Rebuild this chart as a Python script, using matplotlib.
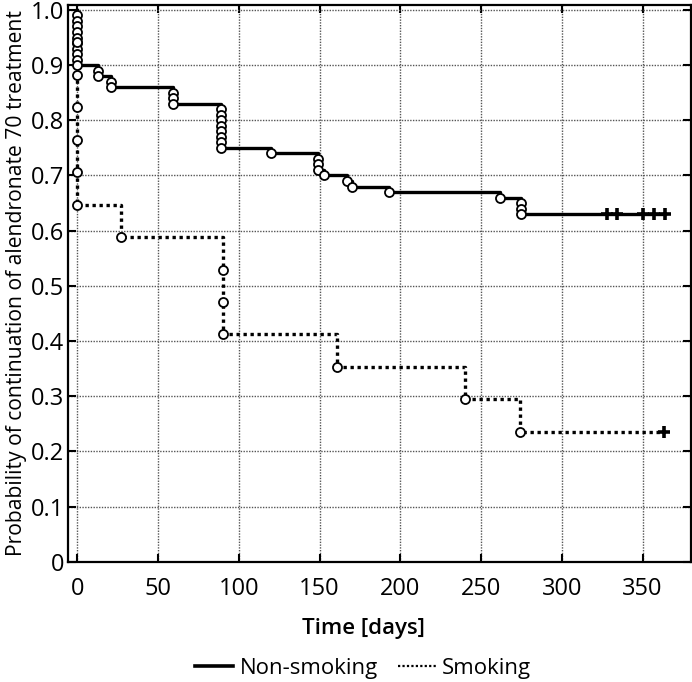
import matplotlib.pyplot as plt

plt.rcParams['font.family'] = ['Open Sans', 'DejaVu Sans']

# Non-smoking group: event times and survival after each event
ns_time = [0, 0, 0, 0, 0, 0, 0, 0, 0, 0,
           13, 13, 21, 21, 59, 59, 59,
           89, 89, 89, 89, 89, 89, 89, 89,
           120, 149, 149, 149, 153, 167, 170, 193, 262, 275, 275, 275]
ns_surv = [0.99, 0.98, 0.97, 0.96, 0.95, 0.94, 0.93, 0.92, 0.91, 0.90,
           0.89, 0.88, 0.87, 0.86, 0.85, 0.84, 0.83,
           0.82, 0.81, 0.80, 0.79, 0.78, 0.77, 0.76, 0.75,
           0.74, 0.73, 0.72, 0.71, 0.70, 0.69, 0.68, 0.67, 0.66, 0.65, 0.64, 0.63]
ns_cens = [328, 334, 350, 357, 364]

# Smoking group
sm_time = [0, 0, 0, 0, 0, 0, 27, 90, 90, 90, 161, 240, 274]
sm_surv = [0.941, 0.882, 0.824, 0.765, 0.706, 0.647, 0.588,
           0.529, 0.471, 0.412, 0.353, 0.294, 0.235]
sm_cens = [363]

fig = plt.figure(figsize=(6.92, 6.82), dpi=100)
ax = fig.add_axes([0.0987, 0.1764, 0.8999, 0.8163])

# step curves
ax.step([0] + ns_time + [ns_cens[-1]], [1.0] + ns_surv + [ns_surv[-1]],
        where='post', color='black', lw=2.4, zorder=3)
ax.step([0] + sm_time + [sm_cens[-1]], [1.0] + sm_surv + [sm_surv[-1]],
        where='post', color='black', lw=2.4, ls=(0, (1, 1.1)), zorder=3)

# events (open circles) and censored (+)
ax.plot(ns_time, ns_surv, 'o', ms=6.5, mfc='white', mec='black', mew=1.3, zorder=4)
ax.plot(sm_time, sm_surv, 'o', ms=6.5, mfc='white', mec='black', mew=1.3, zorder=4)
ax.plot(ns_cens, [ns_surv[-1]] * len(ns_cens), '+', ms=9, mew=2.6, color='black', zorder=4)
ax.plot(sm_cens, [sm_surv[-1]] * len(sm_cens), '+', ms=9, mew=2.6, color='black', zorder=4)

# legend handles
ax.plot([], [], color='black', lw=2.6, label='Non-smoking')
ax.plot([], [], color='black', lw=1.6, ls=(0, (1, 1)), label='Smoking')

ax.set_xlim(-5.6, 380)
ax.set_ylim(0, 1.009)
ax.set_xticks(range(0, 351, 50))
ax.set_yticks([i / 10 for i in range(11)])
ax.set_yticklabels(['0'] + ['%.1f' % (i / 10) for i in range(1, 11)])
ax.grid(True, ls=(0, (1, 1)), color='#555555', lw=1)
ax.tick_params(direction='in', length=6, width=1.5, labelsize=17,
               top=True, right=True)
ax.tick_params(axis='x', pad=11)
ax.tick_params(axis='y', pad=3)
for s in ax.spines.values():
    s.set_linewidth(1.6)

ax.set_ylabel('Probability of continuation of alendronate 70 treatment',
              fontsize=15.2, labelpad=3)
fig.text(0.525, 0.079, 'Time [days]', ha='center', va='center',
         fontsize=16, fontweight='semibold')
fig.legend(loc='center', bbox_to_anchor=(0.525, 0.02), ncol=2, frameon=False,
           fontsize=16, handlelength=1.7, handletextpad=0.3, columnspacing=0.9)

fig.savefig('out.png', dpi=100)
